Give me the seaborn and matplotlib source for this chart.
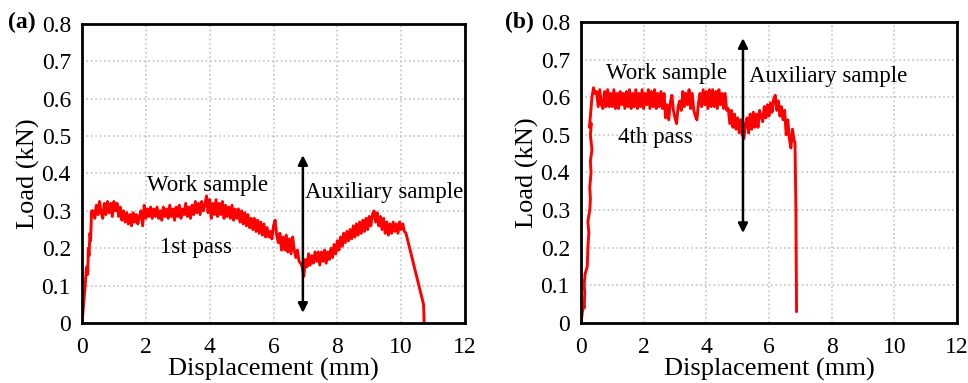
import numpy as np
import pandas as pd
import seaborn as sns
import matplotlib.pyplot as plt

# ---- data ----
# panel (a): 1st pass
ramp_a_x = [0.0, 0.05, 0.1, 0.13, 0.15, 0.18, 0.2, 0.22, 0.25, 0.27, 0.3]
ramp_a_y = [0.0, 0.05, 0.1, 0.14, 0.15, 0.13, 0.2, 0.18, 0.24, 0.22, 0.3]
plateau_a_start = 0.35
plateau_a_step = 0.05
plateau_a_y = [
    0.30, 0.28, 0.315, 0.29, 0.325, 0.295, 0.28, 0.32, 0.29, 0.325,
    0.295, 0.32, 0.285, 0.325, 0.30, 0.32, 0.285, 0.31, 0.275, 0.30,
    0.27, 0.295, 0.265, 0.29, 0.26, 0.295, 0.27, 0.29, 0.265, 0.285,
    0.30, 0.26, 0.315, 0.28, 0.305, 0.285, 0.31, 0.28, 0.305, 0.285,
    0.31, 0.28, 0.30, 0.275, 0.31, 0.285, 0.305, 0.28, 0.315, 0.285,
    0.305, 0.275, 0.31, 0.285, 0.315, 0.28, 0.305, 0.29, 0.32, 0.285,
    0.31, 0.28, 0.315, 0.29, 0.325, 0.295, 0.32, 0.29, 0.325, 0.30,
    0.315, 0.34, 0.295, 0.33, 0.28, 0.32, 0.29, 0.33, 0.285, 0.32,
    0.29, 0.325, 0.28, 0.315, 0.285, 0.31, 0.28, 0.315, 0.275, 0.305,
    0.28, 0.305, 0.27, 0.30, 0.265, 0.295, 0.26, 0.29, 0.255, 0.28,
    0.25, 0.28, 0.245, 0.275, 0.24, 0.27, 0.235, 0.265, 0.23, 0.255,
    0.23, 0.245, 0.225, 0.26, 0.275, 0.235, 0.215, 0.24, 0.195, 0.23,
    0.195, 0.235, 0.19, 0.225, 0.185, 0.23, 0.195, 0.175, 0.195, 0.165,
    0.16, 0.15, 0.125, 0.17, 0.15, 0.185, 0.155, 0.18, 0.16, 0.19,
    0.165, 0.19, 0.155, 0.19, 0.165, 0.195, 0.16, 0.19, 0.17, 0.20,
    0.175, 0.21, 0.185, 0.22, 0.195, 0.23, 0.205, 0.24, 0.215, 0.245,
    0.22, 0.25, 0.225, 0.26, 0.23, 0.265, 0.235, 0.27, 0.24, 0.275,
    0.245, 0.28, 0.25, 0.285, 0.26, 0.29, 0.30, 0.27, 0.295, 0.26,
    0.285, 0.25, 0.28, 0.24, 0.27, 0.235, 0.265, 0.24, 0.27, 0.245,
    0.265, 0.24, 0.27, 0.25, 0.265, 0.245, 0.24,
]
drop_a_x = [10.7, 10.72]
drop_a_y = [0.05, 0.0]

# panel (b): 4th pass
ramp_b_x = [0.0, 0.03, 0.08, 0.1, 0.12, 0.1, 0.13, 0.2, 0.22, 0.25, 0.22, 0.28,
            0.3, 0.28, 0.32, 0.3, 0.35, 0.3, 0.33, 0.27, 0.32, 0.35, 0.4, 0.45]
ramp_b_y = [0.0, 0.02, 0.05, 0.04, 0.08, 0.1, 0.13, 0.15, 0.2, 0.24, 0.27, 0.3,
            0.33, 0.36, 0.4, 0.43, 0.46, 0.5, 0.53, 0.52, 0.57, 0.6, 0.625, 0.61]
plateau_b_start = 0.5
plateau_b_step = 0.05
plateau_b_y = [
    0.615, 0.575, 0.62, 0.58, 0.57, 0.615, 0.575, 0.62, 0.575, 0.61,
    0.575, 0.62, 0.57, 0.61, 0.57, 0.615, 0.58, 0.61, 0.57, 0.615,
    0.575, 0.62, 0.57, 0.61, 0.575, 0.62, 0.57, 0.61, 0.575, 0.62,
    0.57, 0.61, 0.58, 0.62, 0.57, 0.615, 0.575, 0.62, 0.57, 0.61,
    0.575, 0.615, 0.57, 0.61, 0.545, 0.58, 0.54, 0.585, 0.605, 0.565,
    0.545, 0.53, 0.575, 0.59, 0.565, 0.615, 0.575, 0.61, 0.58, 0.62,
    0.57, 0.61, 0.565, 0.55, 0.54, 0.585, 0.61, 0.575, 0.62, 0.58,
    0.615, 0.57, 0.62, 0.575, 0.62, 0.575, 0.615, 0.57, 0.62, 0.58,
    0.61, 0.57, 0.61, 0.565, 0.57, 0.53, 0.565, 0.52, 0.555, 0.515,
    0.545, 0.505, 0.54, 0.50, 0.49, 0.53, 0.545, 0.505, 0.555, 0.515,
    0.56, 0.52, 0.555, 0.52, 0.565, 0.55, 0.535, 0.575, 0.545, 0.58,
    0.55, 0.585, 0.56, 0.595, 0.605, 0.565, 0.59, 0.55, 0.575, 0.54,
    0.565, 0.50, 0.54, 0.49, 0.465, 0.515, 0.485,
]
drop_b_x = [6.83, 6.86, 6.88]
drop_b_y = [0.48, 0.3, 0.03]


def build_curve(ramp_x, ramp_y, start, step, plateau_y, drop_x, drop_y):
    plateau_x = list(np.round(start + step * np.arange(len(plateau_y)), 3))
    x = list(ramp_x) + plateau_x + list(drop_x)
    y = list(ramp_y) + list(plateau_y) + list(drop_y)
    return pd.DataFrame({'Displacement': x, 'Load': y})


curve_a = build_curve(ramp_a_x, ramp_a_y, plateau_a_start, plateau_a_step,
                      plateau_a_y, drop_a_x, drop_a_y)
curve_b = build_curve(ramp_b_x, ramp_b_y, plateau_b_start, plateau_b_step,
                      plateau_b_y, drop_b_x, drop_b_y)

panels = [
    dict(df=curve_a, tag='(a)', rect=[0.0847, 0.1567, 0.3957, 0.7807],
         arrow=(6.92, 0.027, 0.449), tag_x=0.008,
         texts=[('Work sample', 3.93, 0.369), ('Auxiliary sample', 9.45, 0.348),
                ('1st pass', 3.57, 0.203)]),
    dict(df=curve_b, tag='(b)', rect=[0.6002, 0.1567, 0.3884, 0.786],
         arrow=(5.17, 0.239, 0.757), tag_x=0.522,
         texts=[('Work sample', 2.72, 0.664), ('Auxiliary sample', 7.9, 0.654),
                ('4th pass', 2.39, 0.492)]),
]

sns.set_style('white')
plt.rcParams['font.family'] = ['Liberation Serif', 'DejaVu Serif']
plt.rcParams['text.color'] = 'black'
plt.rcParams['axes.labelcolor'] = 'black'

fig = plt.figure(figsize=(9.68, 3.83), dpi=100)

for p in panels:
    ax = fig.add_axes(p['rect'])
    sns.lineplot(data=p['df'], x='Displacement', y='Load', sort=False,
                 estimator=None, color='#ff0000', linewidth=2.1, ax=ax)

    ax.set_xlim(0, 12)
    ax.set_ylim(0, 0.8)
    ax.set_xticks(range(0, 13, 2))
    ax.set_xticks(range(1, 12, 2), minor=True)
    ax.set_yticks(np.arange(0, 0.81, 0.1))
    ax.set_yticklabels(['0'] + [f'{v:.1f}' for v in np.arange(0.1, 0.81, 0.1)])
    ax.tick_params(axis='both', which='major', direction='out', length=5,
                   width=1.5, labelsize=17, colors='black')
    ax.tick_params(axis='x', which='major', pad=5)
    ax.tick_params(axis='y', which='major', pad=3)
    ax.tick_params(axis='x', which='minor', direction='out', length=3, width=1.2,
                   colors='black')
    ax.grid(True, which='major', linestyle=':', color='#c4c4c4', linewidth=1.2)
    for s in ax.spines.values():
        s.set_linewidth(2)
        s.set_color('black')

    ax.set_xlabel('Displacement (mm)', fontsize=19, labelpad=0)
    ax.set_ylabel('Load (kN)', fontsize=19, labelpad=1)

    for txt, tx, ty in p['texts']:
        ax.text(tx, ty, txt, fontsize=16.5, ha='center', va='center',
                color='black')

    ax_x, ay0, ay1 = p['arrow']
    ax.annotate('', xy=(ax_x, ay1), xytext=(ax_x, ay0),
                arrowprops=dict(arrowstyle='<|-|>', color='black', lw=1.8,
                                mutation_scale=14, shrinkA=0, shrinkB=0))

    fig.text(p['tag_x'], 0.927, p['tag'], fontsize=17, fontweight='bold',
             ha='left', va='baseline', color='black')

fig.savefig('out.png', dpi=100)
